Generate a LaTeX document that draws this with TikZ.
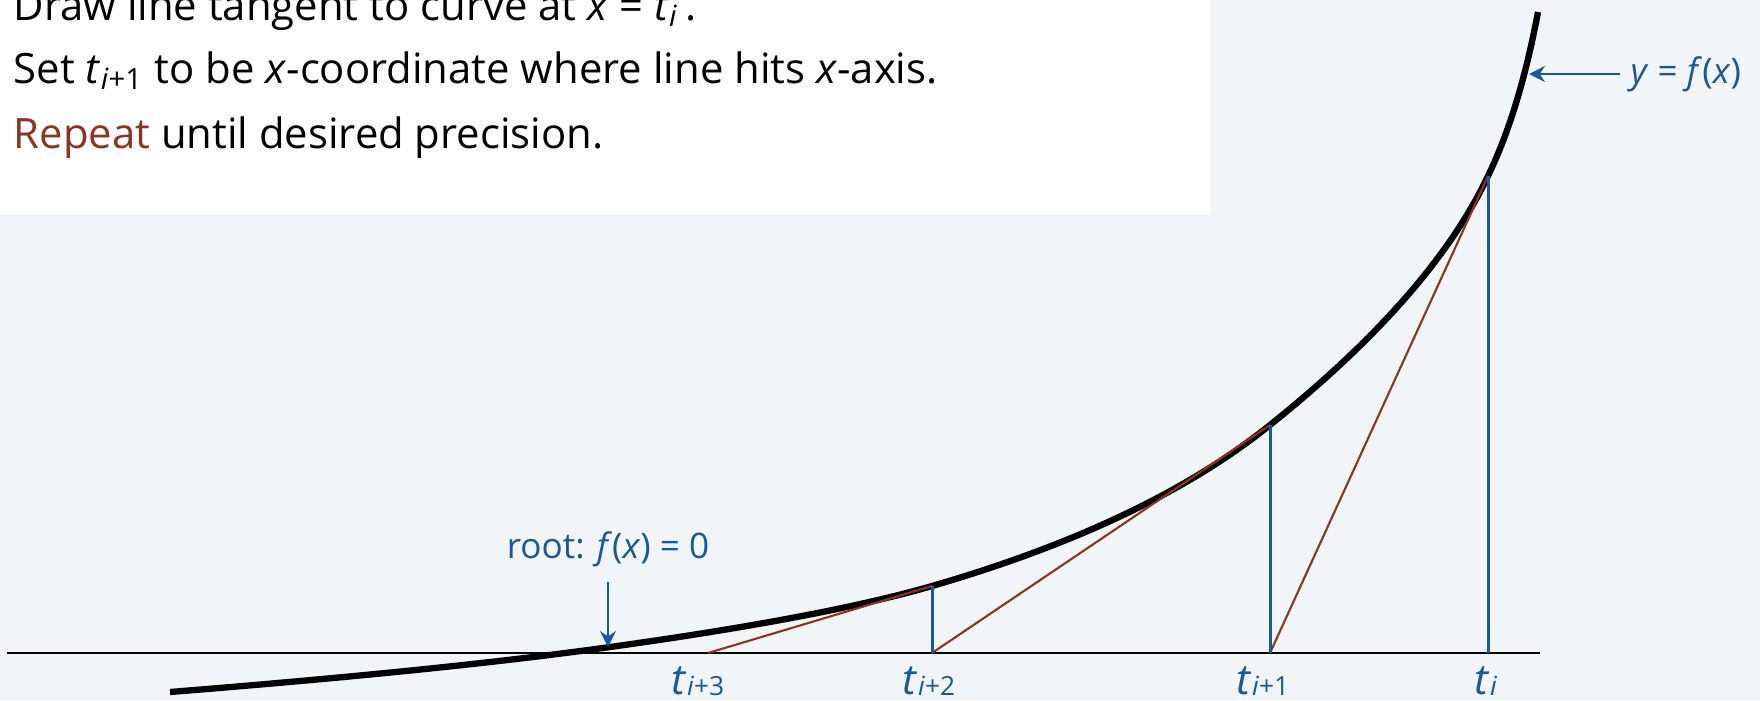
\documentclass[tikz,border=0pt]{standalone}
\usepackage{fontspec}
\setmainfont{Open Sans}
\usepackage{xcolor}
\usetikzlibrary{arrows.meta}
\definecolor{fundo}{HTML}{F2F5F8}
\definecolor{azul}{HTML}{17599A}
\definecolor{tijolo}{HTML}{8C3324}
\newcommand{\itv}[1]{\textit{#1}}
\newcommand{\sbs}[1]{\textsubscript{#1}}
\newcommand{\ind}[1]{\raisebox{-0.5pt}{\fontsize{7.5}{8}\selectfont #1}}
\tikzset{
  texto/.style={anchor=base west, inner sep=0pt, font=\fontsize{11.9}{14}\selectfont},
  rotulo/.style={anchor=base, inner sep=0pt, text=azul, font=\fontsize{12}{14}\selectfont},
  nota/.style={text=azul, font=\fontsize{10}{12}\selectfont},
  seta/.style={-{Stealth[length=4.5pt, width=4.5pt]}, azul, line width=0.8pt},
  curva/.style={line width=1.8pt},
  tangente/.style={tijolo, line width=0.6pt},
  vertical/.style={azul, line width=0.85pt},
}

\begin{document}
\begin{tikzpicture}
  \useasboundingbox[fill=fundo] (0,-0.47) rectangle (17.6,6.53);
  \fill[white] (0,4.38) rectangle (12.10,6.53);

  % texto
  \node[texto] (l1) at (0.13,6.33) {Draw line tangent to curve at \itv{x} = \itv{t}\sbs{\itv{i}}\,.};
  \node[texto] (l2) at (0.13,5.70) {Set \itv{t}\sbs{\itv{i}+1} to be \itv{x}-coordinate where line hits \itv{x}-axis.};
  \node[texto] (l3) at (0.13,5.05) {\textcolor{tijolo}{Repeat} until desired precision.};

  % eixo e pontos
  \coordinate (e0) at (0.07,0);
  \coordinate (e1) at (15.40,0);
  \coordinate (t0) at (14.88,0); \coordinate (t0c) at (14.88,4.77);
  \coordinate (t1) at (12.70,0); \coordinate (t1c) at (12.70,2.28);
  \coordinate (t2) at (9.32,0);  \coordinate (t2c) at (9.32,0.67);
  \coordinate (t3) at (7.08,0);
  \draw[line width=0.75pt] (e0) -- (e1);

  \draw[curva] (1.70,-0.39) .. controls (3.54,-0.243) and (5.01,-0.093) .. (6.10,0.06)
    .. controls (7.54,0.26) and (8.61,0.465) .. (t2c)
    .. controls (10.75,1.085) and (11.88,1.62) .. (t1c)
    .. controls (13.77,3.137) and (14.50,3.967) .. (t0c)
    .. controls (15.10,5.227) and (15.26,5.773) .. (15.38,6.41);

  \draw[tangente] (t1) -- (t0c);
  \draw[tangente] (t2) -- (t1c);
  \draw[tangente] (t3) -- (t2c);
  \draw[vertical] (t0) -- (t0c);
  \draw[vertical] (t1) -- (t1c);
  \draw[vertical] (t2) -- (t2c);

  \node[rotulo] (r0) at ([xshift=-0.02cm, yshift=-0.41cm]t0) {\itv{t}\ind{\itv{i}}};
  \node[rotulo] (r1) at ([xshift=-0.07cm, yshift=-0.41cm]t1) {\itv{t}\ind{\itv{i}+1}};
  \node[rotulo] (r2) at ([xshift=-0.03cm, yshift=-0.41cm]t2) {\itv{t}\ind{\itv{i}+2}};
  \node[rotulo] (r3) at ([xshift=-0.10cm, yshift=-0.41cm]t3) {\itv{t}\ind{\itv{i}+3}};

  % setas
  \node[nota, anchor=base, inner sep=0.15cm] (raiz) at (6.08,0.95) {root: \itv{f}(\itv{x}) = 0};
  \coordinate (praiz) at (6.08,0.06);
  \draw[seta] (raiz.south) -- (praiz);
  \node[nota, anchor=west, inner sep=0.1cm] (yfx) at (16.20,5.79) {\itv{y} = \itv{f}(\itv{x})};
  \coordinate (pfx) at (15.29,5.79);
  \draw[seta] (yfx.west) -- (pfx);
\end{tikzpicture}
\end{document}
